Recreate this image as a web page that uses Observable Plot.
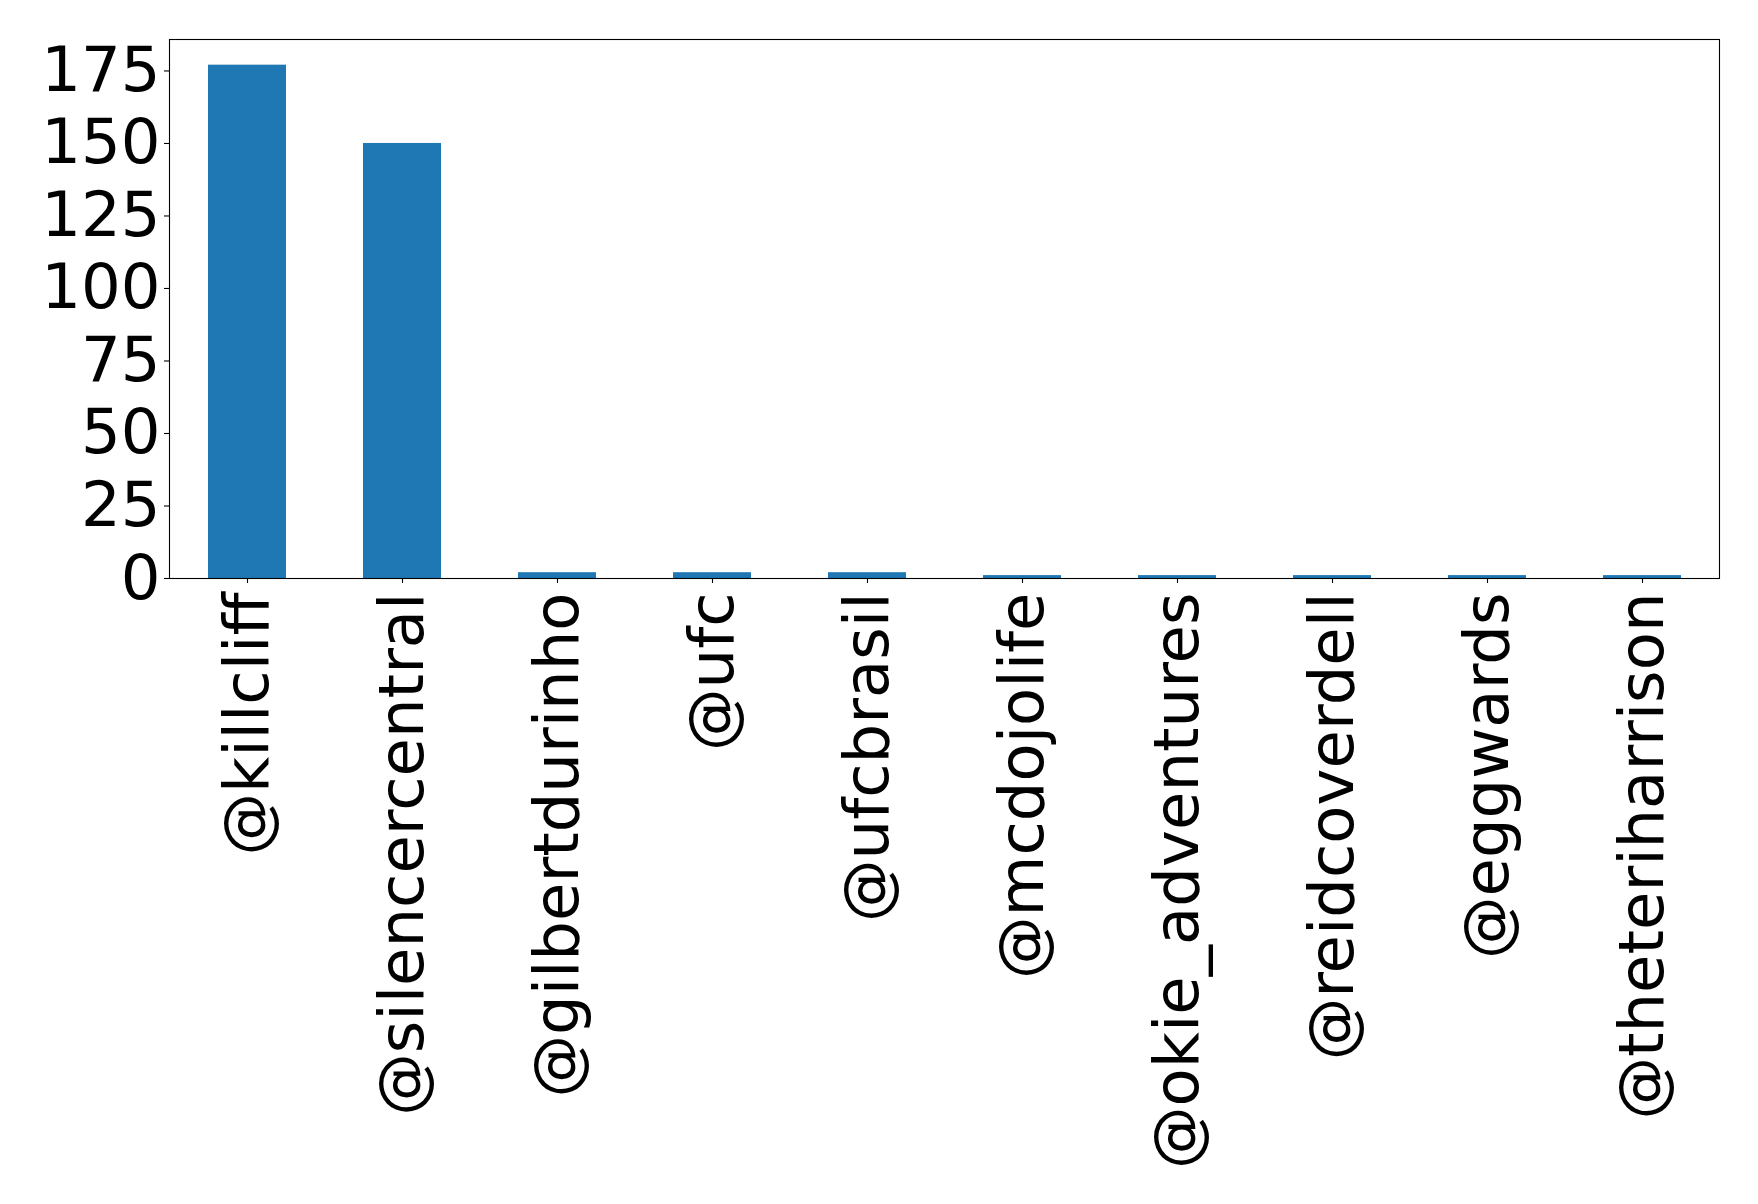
<!DOCTYPE html>
<html>
<head>
<meta charset="utf-8">
<script src="https://cdn.jsdelivr.net/npm/d3@7"></script>
<script src="https://cdn.jsdelivr.net/npm/@observablehq/plot@0.6"></script>
<style>
  html, body { margin: 0; padding: 0; background: #fff; }
  #chart svg { display: block; }
</style>
</head>
<body>
<div id="chart"></div>
<script>
// Most-mentioned accounts and their mention counts
const handles = [
  "@killcliff", "@silencercentral", "@gilbertdurinho", "@ufc", "@ufcbrasil",
  "@mcdojolife", "@okie_adventures", "@reidcoverdell", "@eggwards", "@theteriharrison"
];
const counts = [177, 150, 2, 2, 2, 1, 1, 1, 1, 1];
const yTicks = [0, 25, 50, 75, 100, 125, 150, 175];

const rows = handles.map((h, i) => ({handle: h, count: counts[i]}));
const yMax = d3.max(counts) * 1.05;
const font = "DejaVu Sans, sans-serif";
const labelSize = 62.5;

const chart = Plot.plot({
  width: 1758,
  height: 1204,
  marginLeft: 169,
  marginRight: 39,
  marginTop: 39,
  marginBottom: 626,
  style: {fontFamily: font, color: "#000", background: "#fff"},
  x: {type: "band", domain: handles, paddingInner: 0.5, paddingOuter: 0.25, label: null},
  y: {domain: [0, yMax], label: null},
  marks: [
    Plot.barY(rows, {x: "handle", y: "count", fill: "#1f77b4"}),
    Plot.axisY({
      ticks: yTicks, tickSize: 5, tickPadding: 4, fontSize: labelSize,
      fontFamily: font, label: null, strokeWidth: 1.1
    }),
    Plot.axisX({
      tickSize: 5, tickPadding: 9, tickRotate: -90, fontSize: labelSize,
      fontFamily: font, label: null, strokeWidth: 1.1
    }),
    Plot.frame({stroke: "#000", strokeWidth: 1.1})
  ]
});

document.getElementById("chart").appendChild(chart);
</script>
</body>
</html>
